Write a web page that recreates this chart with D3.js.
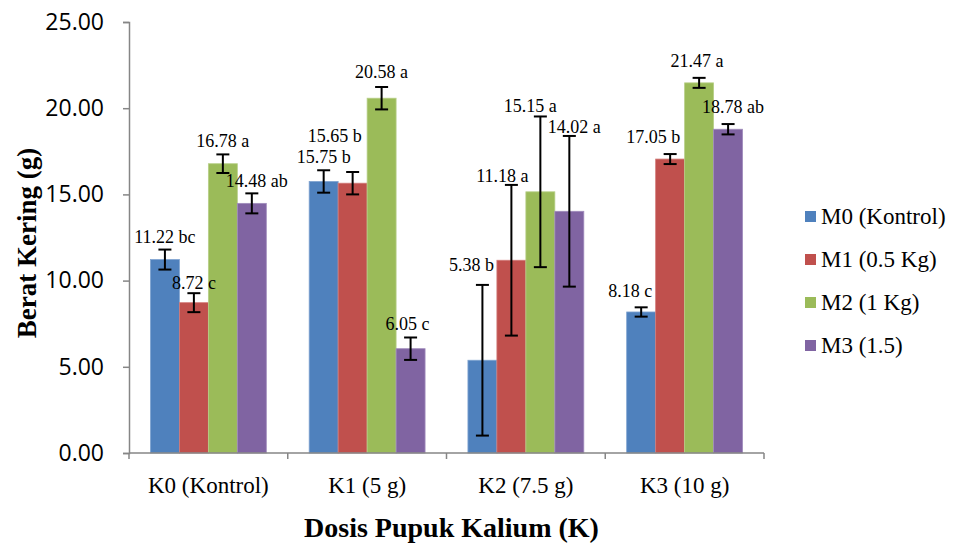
<!DOCTYPE html>
<html>
<head>
<meta charset="utf-8">
<script src="https://cdn.jsdelivr.net/npm/d3@7/dist/d3.min.js"></script>
<style>
  html, body { margin: 0; padding: 0; background: #fff; }
  svg { display: block; }
</style>
</head>
<body>
<svg id="chart" width="953" height="544"></svg>
<script>
// ---- Data ----
const categories = ["K0 (Kontrol)", "K1 (5 g)", "K2 (7.5 g)", "K3 (10 g)"];
const seriesNames = ["M0 (Kontrol)", "M1 (0.5 Kg)", "M2 (1 Kg)", "M3 (1.5)"];
const M0 = [11.22, 15.75, 5.38, 8.18];
const M1 = [8.72, 15.65, 11.18, 17.05];
const M2 = [16.78, 20.58, 15.15, 21.47];
const M3 = [14.48, 6.05, 14.02, 18.78];
const errM0 = [0.58, 0.65, 4.37, 0.27];
const errM1 = [0.55, 0.65, 4.37, 0.29];
const errM2 = [0.54, 0.65, 4.37, 0.29];
const errM3 = [0.58, 0.65, 4.37, 0.30];
const lettersM0 = ["bc", "b", "b", "c"];
const lettersM1 = ["c", "b", "a", "b"];
const lettersM2 = ["a", "a", "a", "a"];
const lettersM3 = ["ab", "c", "a", "ab"];
const yTicks = [0, 5, 10, 15, 20, 25];

// ---- Layout / style (not data) ----
const colors = ["#4F81BD", "#C0504D", "#9BBB59", "#8064A2"];
const strokeColors = ["#7FA3D0", "#D27C7A", "#B7CF88", "#A08CBC"];
// manual label nudges [dx, dy] in px per series per category (as placed in the original)
const labelNudge = [
  [[0, 0], [0, 0], [-11, -7], [-11, -3]],
  [[0, 3], [-18, -23], [-9, 4], [-17, -4]],
  [[0, 0], [0, -2], [-10, 3], [-2, -4]],
  [[5, 1], [-3, 0], [5, 4], [5, -4]]
];

const values = [M0, M1, M2, M3];
const errs = [errM0, errM1, errM2, errM3];
const letters = [lettersM0, lettersM1, lettersM2, lettersM3];

const svg = d3.select("#chart");
const plotLeft = 129, plotRight = 764, plotTop = 22, plotBottom = 453;

const x = d3.scaleBand().domain(categories).range([plotLeft, plotRight]).paddingInner(0.27).paddingOuter(0.135);
const xs = d3.scaleBand().domain(seriesNames).range([0, x.bandwidth()]);
const y = d3.scaleLinear().domain([0, 25]).range([plotBottom, plotTop]);

const axisColor = "#868686";
const serif = "'Liberation Serif', 'Times New Roman', Times, serif";

// Bars
const data = [];
categories.forEach((c, ci) => {
  seriesNames.forEach((s, si) => {
    data.push({c, ci, s, si, v: values[si][ci], e: errs[si][ci], l: letters[si][ci]});
  });
});

svg.append("g").selectAll("rect").data(data).join("rect")
  .attr("x", d => x(d.c) + xs(d.s))
  .attr("y", d => y(d.v))
  .attr("width", xs.bandwidth())
  .attr("height", d => y(0) - y(d.v))
  .attr("fill", d => colors[d.si])
  .attr("stroke", d => strokeColors[d.si])
  .attr("stroke-width", 0.8);

// Y axis
const yAxis = d3.axisLeft(y).tickValues(yTicks).tickFormat(d3.format(".2f")).tickSize(6).tickPadding(19);
const gy = svg.append("g").attr("transform", `translate(${plotLeft},0)`).call(yAxis);
gy.select(".domain").attr("stroke", axisColor).attr("stroke-width", 1.5);
gy.selectAll(".tick line").attr("stroke", axisColor).attr("stroke-width", 1.5);
gy.selectAll(".tick text").attr("font-family", "'Open Sans', Calibri, sans-serif").attr("font-size", 23).attr("fill", "#000");

// X axis
const gx = svg.append("g").attr("transform", `translate(0,${plotBottom})`);
gx.append("line").attr("x1", plotLeft).attr("x2", plotRight).attr("y1", 0).attr("y2", 0)
  .attr("stroke", axisColor).attr("stroke-width", 1.5);
const boundaries = categories.map(c => x(c) - x.step() * x.paddingInner() / 2).concat([plotRight]);
gx.selectAll("line.tk").data(boundaries).join("line").attr("class", "tk")
  .attr("x1", d => d).attr("x2", d => d).attr("y1", 0).attr("y2", 6)
  .attr("stroke", axisColor).attr("stroke-width", 1.5);
gx.selectAll("text").data(categories).join("text")
  .attr("x", d => x(d) + x.bandwidth() / 2)
  .attr("y", 40)
  .attr("text-anchor", "middle")
  .attr("font-family", serif)
  .attr("font-size", 23)
  .attr("fill", "#000")
  .text(d => d);

// Error bars
const cap = 6.5;
const eg = svg.append("g").attr("stroke", "#000").attr("stroke-width", 2);
data.forEach(d => {
  const cx = x(d.c) + xs(d.s) + xs.bandwidth() / 2;
  const y1 = y(d.v + d.e), y2 = y(d.v - d.e);
  eg.append("line").attr("x1", cx).attr("x2", cx).attr("y1", y1).attr("y2", y2);
  eg.append("line").attr("x1", cx - cap).attr("x2", cx + cap).attr("y1", y1).attr("y2", y1);
  eg.append("line").attr("x1", cx - cap).attr("x2", cx + cap).attr("y1", y2).attr("y2", y2);
});

// Data labels
svg.append("g").selectAll("text").data(data).join("text")
  .attr("x", d => x(d.c) + xs(d.s) + xs.bandwidth() / 2 + labelNudge[d.si][d.ci][0])
  .attr("y", d => y(d.v + d.e) - 7 + labelNudge[d.si][d.ci][1])
  .attr("text-anchor", "middle")
  .attr("font-family", serif)
  .attr("font-size", 18)
  .attr("fill", "#000")
  .text(d => d.v.toFixed(2) + " " + d.l);

// Axis titles
svg.append("text")
  .attr("x", (plotLeft + plotRight) / 2 + 5)
  .attr("y", 537)
  .attr("text-anchor", "middle")
  .attr("font-family", serif)
  .attr("font-weight", "bold")
  .attr("font-size", 28)
  .text("Dosis Pupuk Kalium (K)");

svg.append("text")
  .attr("transform", "translate(36,243) rotate(-90)")
  .attr("text-anchor", "middle")
  .attr("font-family", serif)
  .attr("font-weight", "bold")
  .attr("font-size", 27)
  .text("Berat Kering (g)");

// Legend
const lg = svg.append("g").attr("transform", "translate(805,211)");
seriesNames.forEach((s, i) => {
  const row = lg.append("g").attr("transform", `translate(0,${i * 43})`);
  row.append("rect").attr("width", 11).attr("height", 11).attr("fill", colors[i]);
  row.append("text").attr("x", 16).attr("y", 13)
    .attr("font-family", serif)
    .attr("font-size", 23)
    .attr("fill", "#000")
    .text(s);
});
</script>
</body>
</html>
